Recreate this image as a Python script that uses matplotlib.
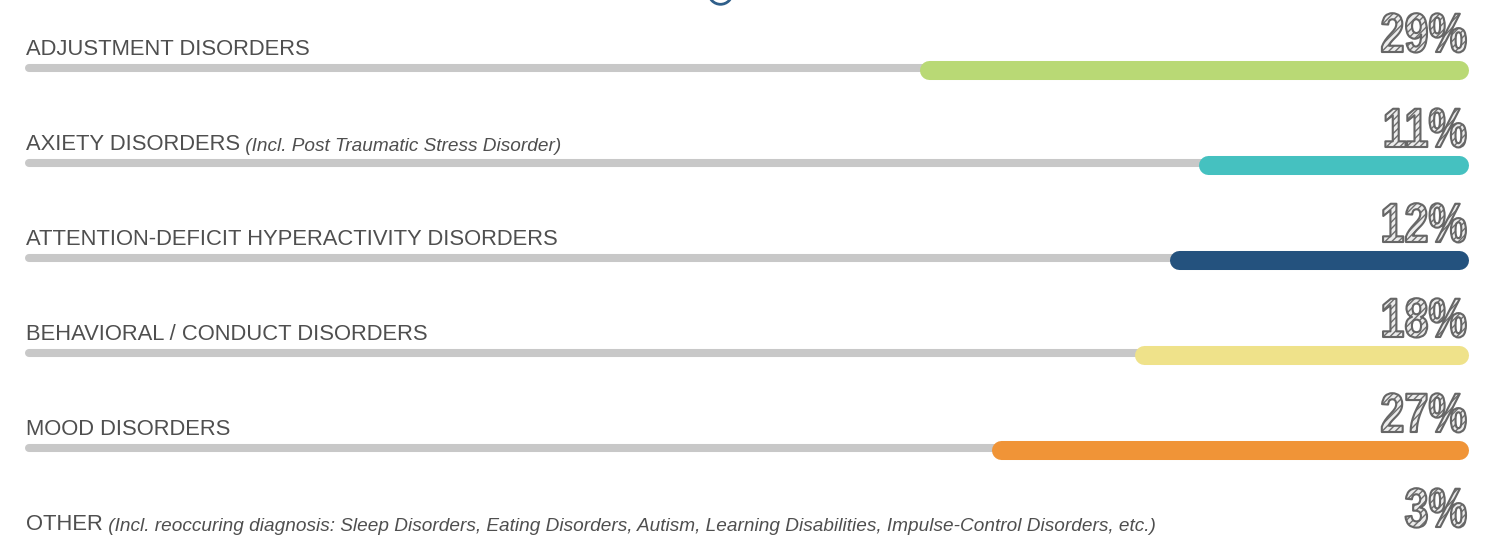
import matplotlib
matplotlib.use('Agg')
import matplotlib.pyplot as plt
import matplotlib.patheffects as pe
from matplotlib.colors import to_rgba
from matplotlib.transforms import Affine2D

# data
categories = ['ADJUSTMENT DISORDERS',
              'AXIETY DISORDERS',
              'ATTENTION-DEFICIT HYPERACTIVITY DISORDERS',
              'BEHAVIORAL / CONDUCT DISORDERS',
              'MOOD DISORDERS',
              'OTHER']
notes = ['',
         '(Incl. Post Traumatic Stress Disorder)',
         '', '', '',
         '(Incl. reoccuring diagnosis: Sleep Disorders, Eating Disorders, Autism, '
         'Learning Disabilities, Impulse-Control Disorders, etc.)']
pct_labels = ['29%', '11%', '12%', '18%', '27%', '3%']
# share of the grey track filled by the coloured bar (as drawn)
fill_share = [0.380, 0.187, 0.207, 0.231, 0.330, 0.053]
colors = ['#b9d975', '#45c1c0', '#24527e', '#efe28a', '#f09437', '#ef5a55']


class Sketchy(pe.AbstractPathEffect):
    """squeeze glyphs sideways about x0 and fill them with hatching"""
    def __init__(self, x0, sx):
        super().__init__()
        self.x0, self.sx = x0, sx

    def draw_path(self, renderer, gc, tpath, affine, rgbFace=None):
        aff = affine + Affine2D().translate(-self.x0, 0).scale(self.sx, 1).translate(self.x0, 0)
        gc0 = renderer.new_gc()
        gc0.copy_properties(gc)
        gc0.set_hatch('/////')
        gc0.set_hatch_color(to_rgba('#6e6e6e'))
        gc0.set_foreground('#666666')
        gc0.set_linewidth(renderer.points_to_pixels(1.1))
        renderer.draw_path(gc0, tpath, aff, to_rgba('#ececec'))
        gc0.restore()


W, H = 1495, 541
fig = plt.figure(figsize=(W/100, H/100), dpi=100)
ax = fig.add_axes([0, 0, 1, 1])
ax.axis('off')

track_px = 1443.0
ax.set_xlim(-25/track_px, 1 + (W - 1468)/track_px)
row_px = 95.0
ax.set_ylim((H - 69)/row_px, -69/row_px)

plt.rcParams['hatch.linewidth'] = 1.0
text_col = '#4f4f4f'
px = 1/track_px
for i, (cat, note, lab, share, c) in enumerate(zip(categories, notes, pct_labels, fill_share, colors)):
    # grey track
    ax.plot([4*px, 1 - 4*px], [i - 1.5/row_px]*2, color='#c8c8c8', lw=5.8,
            solid_capstyle='round', zorder=1)
    # coloured part, anchored at the right end
    ax.plot([1 - share + 9.5*px, 1 - 9.5*px], [i + 0.5/row_px]*2, color=c, lw=13.7,
            solid_capstyle='round', zorder=2, clip_on=False)
    t = ax.text(0.0008, i - 14/row_px, cat, fontsize=15.8, color=text_col,
                family='Liberation Sans', ha='left', va='baseline')
    if note:
        ax.annotate(' ' + note, xy=(1, 0), xycoords=t, fontsize=13.65,
                    style='italic', color=text_col, family='Liberation Sans',
                    ha='left', va='bottom')
    xr = 1 - 1*px
    yb = i - 17/row_px
    x0 = ax.transData.transform((xr, yb))[0]
    ax.text(xr, yb, lab, fontsize=40, fontweight='bold', family='Liberation Sans',
            color='#d9d9d9', ha='right', va='baseline',
            path_effects=[Sketchy(x0, 0.78)])

# partial icon at the top edge
ax.plot([(720 - 25)*px], [(-8 - 69)/row_px], marker='o', ms=17, mfc='white',
        mec='#2f5f8a', mew=2, clip_on=False)

fig.savefig('out.png', dpi=100)
